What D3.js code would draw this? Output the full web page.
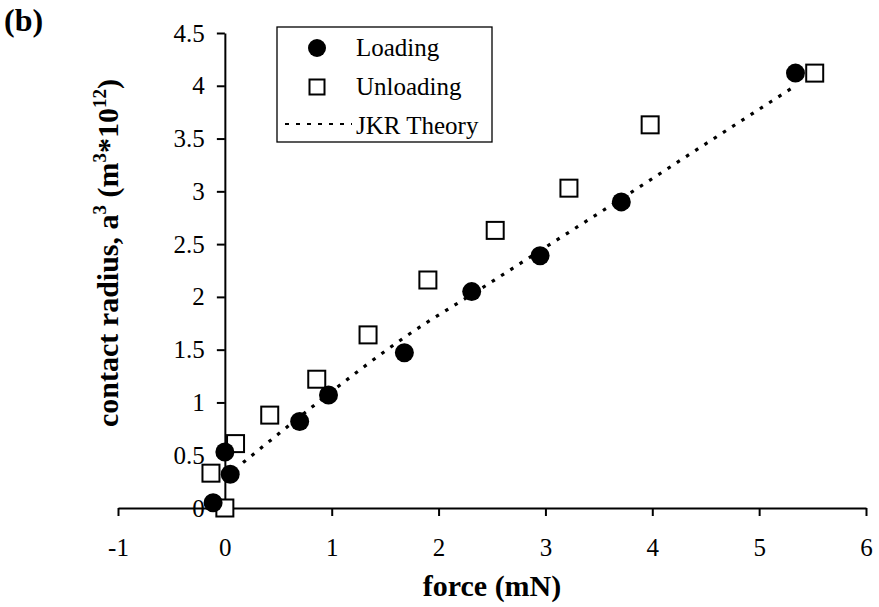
<!DOCTYPE html>
<html>
<head>
<meta charset="utf-8">
<script src="https://cdn.jsdelivr.net/npm/d3@7"></script>
<style>
  html, body { margin: 0; padding: 0; background: #fff; }
  svg { display: block; font-family: "Liberation Serif", "Times New Roman", serif; }
</style>
</head>
<body>
<svg id="chart" width="879" height="607"></svg>
<script>
// Loading branch (filled circles): force in mN, contact radius a^3 in m^3*10^12
const loadingForce = [-0.11, 0.00, 0.05, 0.70, 0.97, 1.68, 2.31, 2.95, 3.71, 5.34];
const loadingA3    = [0.05, 0.53, 0.32, 0.82, 1.07, 1.47, 2.05, 2.39, 2.90, 4.12];

// Unloading branch (open squares)
const unloadingForce = [0.00, -0.13, 0.10, 0.42, 0.86, 1.34, 1.90, 2.53, 3.22, 3.98, 5.52];
const unloadingA3    = [0.00, 0.33, 0.61, 0.88, 1.22, 1.64, 2.16, 2.63, 3.03, 3.63, 4.12];

// JKR theory curve
const jkrForce = [0.17, 0.50, 0.97, 1.70, 2.40, 3.00, 3.71, 4.50, 5.34];
const jkrA3    = [0.43, 0.70, 1.08, 1.63, 2.08, 2.47, 2.93, 3.45, 4.00];

// Axis ticks
const xTicks = [-1, 0, 1, 2, 3, 4, 5, 6];
const yTicks = [0, 0.5, 1, 1.5, 2, 2.5, 3, 3.5, 4, 4.5];

const svg = d3.select("#chart");

const x = d3.scaleLinear().domain([-1, 6]).range([118, 866]);
const y = d3.scaleLinear().domain([0, 4.5]).range([508, 33]);

// X axis along a^3 = 0
const xAxis = svg.append("g")
  .attr("transform", `translate(0,${y(0)})`)
  .call(d3.axisBottom(x).tickValues(xTicks).tickFormat(d => String(d))
        .tickSize(8).tickSizeOuter(0).tickPadding(22));

// Y axis along force = 0
const yAxis = svg.append("g")
  .attr("transform", `translate(${x(0)},0)`)
  .call(d3.axisLeft(y).tickValues(yTicks).tickFormat(d => String(d))
        .tickSize(8).tickSizeOuter(0).tickPadding(12));

[xAxis, yAxis].forEach(g => {
  g.select(".domain").attr("stroke", "#000").attr("stroke-width", 2);
  g.selectAll(".tick line").attr("stroke", "#000").attr("stroke-width", 2);
  g.selectAll(".tick text")
    .attr("fill", "#000")
    .style("font-family", "'Liberation Serif', serif")
    .style("font-size", "25px");
});

// JKR theory dotted curve
const jkrPts = jkrForce.map((f, i) => [f, jkrA3[i]]);
svg.append("path")
  .datum(jkrPts)
  .attr("fill", "none")
  .attr("stroke", "#000")
  .attr("stroke-width", 3.2)
  .attr("stroke-dasharray", "3.5,7.5")
  .attr("d", d3.line().curve(d3.curveMonotoneX).x(d => x(d[0])).y(d => y(d[1])));

// Unloading squares
const sq = 17;
svg.append("g").selectAll("rect")
  .data(unloadingForce.map((f, i) => [f, unloadingA3[i]]))
  .join("rect")
  .attr("x", d => x(d[0]) - sq / 2)
  .attr("y", d => y(d[1]) - sq / 2)
  .attr("width", sq)
  .attr("height", sq)
  .attr("fill", "#fff")
  .attr("stroke", "#000")
  .attr("stroke-width", 2);

// Loading circles
svg.append("g").selectAll("circle")
  .data(loadingForce.map((f, i) => [f, loadingA3[i]]))
  .join("circle")
  .attr("cx", d => x(d[0]))
  .attr("cy", d => y(d[1]))
  .attr("r", 9.5)
  .attr("fill", "#000");

// Legend
const lg = svg.append("g");
lg.append("rect")
  .attr("x", 277).attr("y", 27).attr("width", 215).attr("height", 115)
  .attr("fill", "#fff").attr("stroke", "#000").attr("stroke-width", 1.3);
lg.append("circle").attr("cx", 317).attr("cy", 48).attr("r", 9).attr("fill", "#000");
lg.append("rect").attr("x", 309.5).attr("y", 79.5).attr("width", 15).attr("height", 15)
  .attr("fill", "#fff").attr("stroke", "#000").attr("stroke-width", 2);
lg.append("line").attr("x1", 285).attr("x2", 352).attr("y1", 124).attr("y2", 124)
  .attr("stroke", "#000").attr("stroke-width", 2).attr("stroke-dasharray", "4,7");
const legendLabels = ["Loading", "Unloading", "JKR Theory"];
lg.selectAll("text.lab")
  .data(legendLabels)
  .join("text")
  .attr("class", "lab")
  .attr("x", 356)
  .attr("y", (d, i) => 56 + i * 39)
  .style("font-size", "25px")
  .text(d => d);

// Axis titles
svg.append("text")
  .attr("x", 492).attr("y", 596)
  .attr("text-anchor", "middle")
  .style("font-size", "30px").style("font-weight", "bold")
  .text("force (mN)");

const yt = svg.append("text")
  .attr("transform", "translate(118,253) rotate(-90)")
  .attr("text-anchor", "middle")
  .style("font-size", "30px").style("font-weight", "bold");
yt.append("tspan").text("contact radius, a");
yt.append("tspan").attr("dy", -12).style("font-size", "19px").text("3");
yt.append("tspan").attr("dy", 12).text(" (m");
yt.append("tspan").attr("dy", -12).style("font-size", "19px").text("3");
yt.append("tspan").attr("dy", 12).text("*10");
yt.append("tspan").attr("dy", -12).style("font-size", "19px").text("12");
yt.append("tspan").attr("dy", 12).text(")");

// Panel label
svg.append("text")
  .attr("x", 4).attr("y", 31)
  .style("font-size", "32px").style("font-weight", "bold")
  .text("(b)");
</script>
</body>
</html>
